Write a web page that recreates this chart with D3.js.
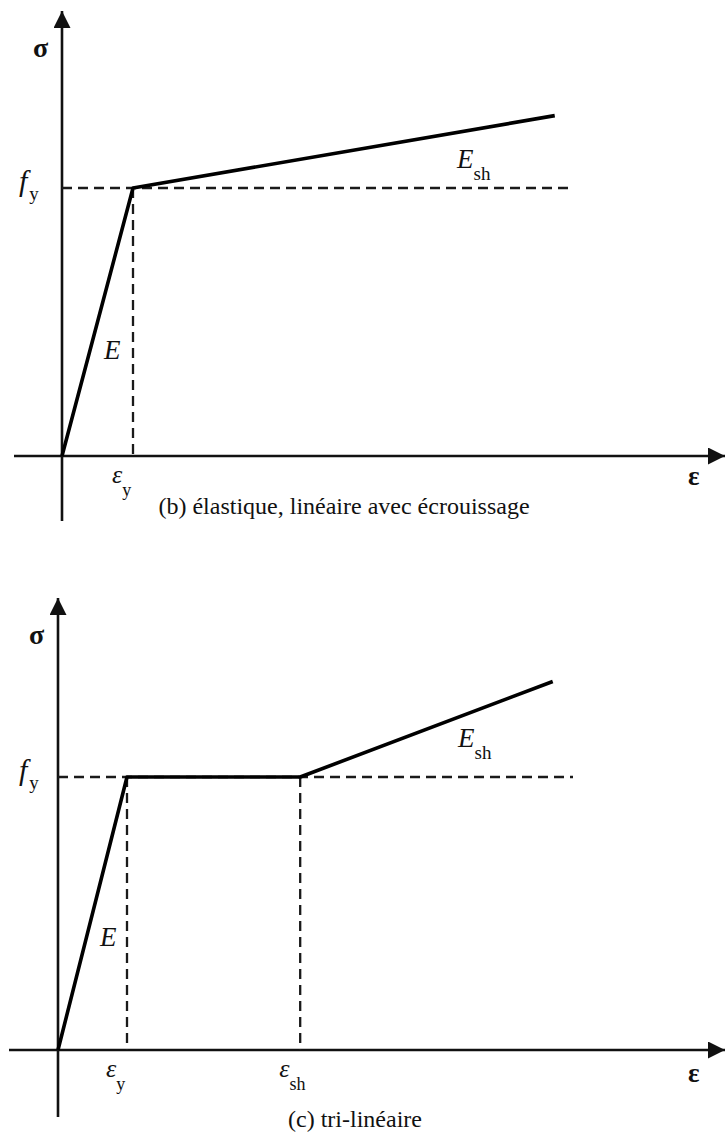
<!DOCTYPE html>
<html>
<head>
<meta charset="utf-8">
<script src="https://cdn.jsdelivr.net/npm/d3@7"></script>
<style>
  html, body { margin: 0; padding: 0; background: #fff; }
  svg { display: block; }
</style>
</head>
<body>
<svg id="chart" width="726" height="1133" font-family="'Liberation Serif', 'Times New Roman', serif"></svg>
<script>
// Normalised strain (units of ε_y) and stress (units of f_y) for each model
const bilinearStrain = [0, 1, 6.94];
const bilinearStress = [0, 1, 1.27];
const trilinearStrain = [0, 1, 3.51, 7.17];
const trilinearStress = [0, 1, 1, 1.35];
const bilinearTicks = [{ v: 1, base: "ε", sub: "y" }];
const trilinearTicks = [{ v: 1, base: "ε", sub: "y" }, { v: 3.51, base: "ε", sub: "sh" }];
const captions = ["(b) élastique, linéaire avec écrouissage", "(c) tri-linéaire"];

const svg = d3.select("#chart");
const ink = "#111";

const defs = svg.append("defs");
defs.append("marker").attr("id", "arrow")
  .attr("viewBox", "0 0 10 10").attr("refX", 10).attr("refY", 5)
  .attr("markerWidth", 19).attr("markerHeight", 17).attr("markerUnits", "userSpaceOnUse")
  .attr("orient", "auto")
  .append("path").attr("d", "M0,0 L10,5 L0,10 Z").attr("fill", ink);

function panel(cfg) {
  const x = d3.scaleLinear().domain([0, 1]).range([cfg.ox, cfg.ox + cfg.ux]);
  const y = d3.scaleLinear().domain([0, 1]).range([cfg.oy, cfg.oy - cfg.uy]);
  const g = svg.append("g").attr("fill", ink);

  // axes
  g.append("line").attr("x1", cfg.xAxisStart).attr("x2", 725).attr("y1", y(0)).attr("y2", y(0))
    .attr("stroke", ink).attr("stroke-width", 2.6).attr("marker-end", "url(#arrow)");
  g.append("line").attr("x1", x(0)).attr("x2", x(0)).attr("y1", cfg.yAxisEnd).attr("y2", cfg.yAxisTop)
    .attr("stroke", ink).attr("stroke-width", 2.6).attr("marker-end", "url(#arrow)");

  // dashed guides: yield stress level and characteristic strains
  g.append("line").attr("x1", x(0)).attr("x2", cfg.dashEnd).attr("y1", y(1)).attr("y2", y(1))
    .attr("stroke", "#1a1a1a").attr("stroke-width", 2.3).attr("stroke-dasharray", "10,6");
  cfg.ticks.forEach(t => {
    g.append("line").attr("x1", x(t.v)).attr("x2", x(t.v)).attr("y1", y(1)).attr("y2", y(0))
      .attr("stroke", "#1a1a1a").attr("stroke-width", 2.3).attr("stroke-dasharray", "10,6");
    const lab = g.append("text").attr("x", x(t.v) - 21).attr("y", y(0) + 27)
      .attr("font-size", 26);
    lab.append("tspan").attr("font-style", "italic").text(t.base);
    lab.append("tspan").attr("font-size", 18).attr("dy", 13).attr("dx", 0).text(t.sub);
  });

  // stress-strain curve
  const line = d3.line().x((d, i) => x(cfg.strain[i])).y(d => y(d));
  g.append("path").attr("d", line(cfg.stress)).attr("fill", "none")
    .attr("stroke", "#000").attr("stroke-width", 3.6).attr("stroke-linejoin", "round");

  // axis titles
  g.append("text").attr("x", x(0) - 29).attr("y", cfg.yAxisTop + 46).attr("font-size", 28)
    .attr("font-weight", "bold").text("σ");
  g.append("text").attr("x", 688).attr("y", y(0) + cfg.epsDy).attr("font-size", 27)
    .attr("font-weight", "bold").text("ε");

  // f_y label
  const fy = g.append("text").attr("x", 19).attr("y", y(1) + 3).attr("font-size", 30);
  fy.append("tspan").attr("font-style", "italic").text("f");
  fy.append("tspan").attr("font-size", 19).attr("dy", 9).attr("dx", 2).text("y");

  // modulus labels
  g.append("text").attr("x", cfg.eLabel[0]).attr("y", cfg.eLabel[1]).attr("font-size", 27)
    .attr("font-style", "italic").text("E");
  const esh = g.append("text").attr("x", cfg.eshLabel[0]).attr("y", cfg.eshLabel[1]).attr("font-size", 27);
  esh.append("tspan").attr("font-style", "italic").text("E");
  esh.append("tspan").attr("font-size", 19).attr("dy", 12).attr("dx", 0).text("sh");

  // caption
  g.append("text").attr("x", cfg.captionX).attr("y", cfg.captionY).attr("font-size", 24)
    .attr("text-anchor", "middle").text(cfg.caption);
}

panel({
  ox: 62, oy: 456, ux: 71, uy: 268,
  xAxisStart: 14, yAxisTop: 11, yAxisEnd: 521, dashEnd: 573, epsDy: 29,
  strain: bilinearStrain, stress: bilinearStress, ticks: bilinearTicks,
  eLabel: [104, 359], eshLabel: [457, 168],
  caption: captions[0], captionX: 344, captionY: 514
});

panel({
  ox: 58, oy: 1050, ux: 69, uy: 273,
  xAxisStart: 9, yAxisTop: 598, yAxisEnd: 1117, dashEnd: 573, epsDy: 32,
  strain: trilinearStrain, stress: trilinearStress, ticks: trilinearTicks,
  eLabel: [100, 946], eshLabel: [458, 747],
  caption: captions[1], captionX: 355, captionY: 1127
});
</script>
</body>
</html>
